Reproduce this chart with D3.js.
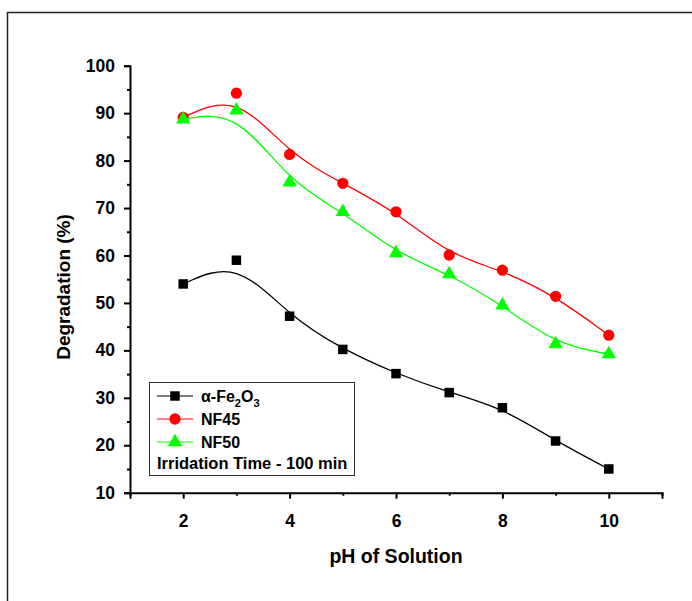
<!DOCTYPE html>
<html>
<head>
<meta charset="utf-8">
<script src="https://cdn.jsdelivr.net/npm/d3@7"></script>
<style>
  body { margin: 0; background: #fff; }
  text { font-family: "Liberation Sans", Arial, sans-serif; font-weight: bold; }
</style>
</head>
<body>
<div id="chart"></div>
<script>
// data
const pH = [2, 3, 4, 5, 6, 7, 8, 9, 10];
const fe2o3 = [54, 59, 47.2, 40.2, 35.1, 31.1, 27.9, 20.9, 15];
const nf45 = [89.1, 94.2, 81.3, 75.2, 69.2, 60.1, 56.9, 51.4, 43.2];
const nf50 = [88.7, 90.6, 75.4, 69.2, 60.5, 56.1, 49.5, 41.3, 39.2];
const xTicks = [2, 4, 6, 8, 10];
const yTicks = [10, 20, 30, 40, 50, 60, 70, 80, 90, 100];

const width = 692, height = 601;

const svg = d3.select("#chart")
  .append("svg")
  .attr("width", width)
  .attr("height", height);

// outer frame (runs off the right and bottom edge)
svg.append("rect")
  .attr("x", 7.5)
  .attr("y", 12.5)
  .attr("width", 700)
  .attr("height", 620)
  .attr("fill", "none")
  .attr("stroke", "#222")
  .attr("stroke-width", 1.5);

const x = d3.scaleLinear().domain([1, 11]).range([130, 662]);
const y = d3.scaleLinear().domain([10, 100]).range([492.7, 65.7]);

// axes
svg.append("g")
  .attr("transform", `translate(0,${y(10)})`)
  .call(d3.axisBottom(x).tickValues(xTicks).tickSize(6).tickPadding(16).tickFormat(d3.format("d")));
svg.append("g")
  .attr("transform", `translate(0,${y(10)})`)
  .call(d3.axisBottom(x).tickValues([1, 3, 5, 7, 9, 11]).tickSize(3).tickFormat(""))
  .select(".domain").remove();

svg.append("g")
  .attr("transform", `translate(${x(1)},0)`)
  .call(d3.axisLeft(y).tickValues(yTicks).tickSize(6).tickPadding(9));
svg.append("g")
  .attr("transform", `translate(${x(1)},0)`)
  .call(d3.axisLeft(y).tickValues(d3.range(15, 100, 10)).tickSize(3).tickFormat(""))
  .select(".domain").remove();

svg.selectAll(".domain").attr("stroke-width", 2).attr("stroke", "#000");
svg.selectAll(".tick line").attr("stroke-width", 2).attr("stroke", "#000");
svg.selectAll(".tick text")
  .attr("font-size", 17.5)
  .attr("fill", "#000")
  .style("font-family", "'Liberation Sans', Arial, sans-serif")
  .style("font-weight", "bold");

// axis titles
svg.append("text")
  .attr("x", 396)
  .attr("y", 563)
  .attr("text-anchor", "middle")
  .attr("font-size", 19.5)
  .text("pH of Solution");

svg.append("text")
  .attr("transform", "translate(70,287) rotate(-90)")
  .attr("text-anchor", "middle")
  .attr("font-size", 19)
  .text("Degradation (%)");

// series
const series = [
  { values: fe2o3, color: "#000000", shape: d3.symbolSquare, size: 90 },
  { values: nf45, color: "#ff0000", shape: d3.symbolCircle, size: 100 },
  { values: nf50, color: "#00ff00", shape: d3.symbolTriangle, size: 90 }
];

const line = d3.line()
  .x((d, i) => x(pH[i]))
  .y(d => y(d))
  .curve(d3.curveBasis);

series.forEach(s => {
  svg.append("path")
    .datum(s.values)
    .attr("d", line)
    .attr("fill", "none")
    .attr("stroke", s.color)
    .attr("stroke-width", 1.3);

  svg.selectAll(null)
    .data(s.values)
    .enter()
    .append("path")
    .attr("d", d3.symbol().type(s.shape).size(s.size))
    .attr("transform", (d, i) => `translate(${x(pH[i])},${y(d)})`)
    .attr("fill", s.color);
});

// legend
const legend = svg.append("g");
legend.append("rect")
  .attr("x", 149.5)
  .attr("y", 382.5)
  .attr("width", 205)
  .attr("height", 93)
  .attr("fill", "#fff")
  .attr("stroke", "#333")
  .attr("stroke-width", 1);

const rowY = [396, 419, 442];
series.forEach((s, i) => {
  legend.append("line")
    .attr("x1", 157).attr("x2", 193)
    .attr("y1", rowY[i]).attr("y2", rowY[i])
    .attr("stroke", s.color)
    .attr("stroke-width", 1);
  legend.append("path")
    .attr("d", d3.symbol().type(s.shape).size(s.size))
    .attr("transform", `translate(175,${rowY[i]})`)
    .attr("fill", s.color);
});

const fe = legend.append("text")
  .attr("x", 201).attr("y", rowY[0] + 6)
  .attr("font-size", 16);
fe.append("tspan").text("\u03b1-Fe");
fe.append("tspan").attr("font-size", 11).attr("dy", 5).text("2");
fe.append("tspan").attr("dy", -5).text("O");
fe.append("tspan").attr("font-size", 11).attr("dy", 5).text("3");

legend.append("text").attr("x", 201).attr("y", rowY[1] + 6).attr("font-size", 16).text("NF45");
legend.append("text").attr("x", 201).attr("y", rowY[2] + 6).attr("font-size", 16).text("NF50");
legend.append("text").attr("x", 157).attr("y", 469).attr("font-size", 16.5).text("Irridation Time - 100 min");
</script>
</body>
</html>
